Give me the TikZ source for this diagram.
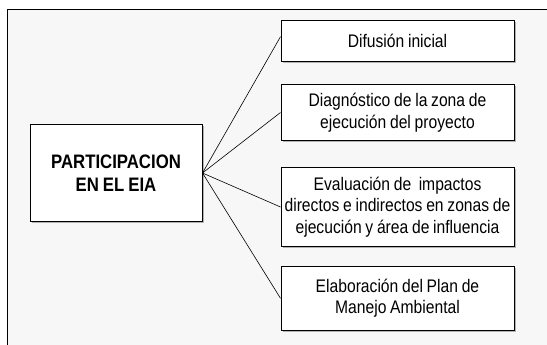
\documentclass[tikz,border=0pt]{standalone}
\usepackage{fontspec}
\setmainfont[FakeStretch=0.86,WordSpace=0.86]{Liberation Sans}
\usepackage{tikz}
\usetikzlibrary{shadows}
\definecolor{panelgray}{RGB}{247,247,247}

\tikzset{
  stepbox/.style={draw,fill=white,line width=1pt,inner sep=0pt,align=center,
    minimum width=233pt,
    font=\fontsize{18.2}{21.7}\selectfont,
    drop shadow={shadow xshift=1.5pt,shadow yshift=-1.5pt,fill=gray!60,opacity=1}},
  mainbox/.style={stepbox,minimum width=172pt,minimum height=96pt,
    font=\fontsize{19.5}{22.7}\selectfont\bfseries},
  link/.style={line width=0.6pt}
}

\begin{document}
\begin{tikzpicture}[x=1pt,y=-1pt]
\useasboundingbox (0,0) rectangle (547,345);
\fill[white] (0,0) rectangle (547,345);
\draw[fill=panelgray,line width=1pt] (7,10) rectangle (549,348);
\node[mainbox] (eia) at (116,173) {PARTICIPACION\\EN EL EIA};
\node[stepbox,minimum height=40.7pt] (difusion) at (397.5,40.7) {Difusión inicial};
\node[stepbox,minimum height=55.6pt] (diagnostico) at (397.5,112.5) {Diagnóstico de la zona de\\ejecución del proyecto};
\node[stepbox,minimum height=79pt] (evaluacion) at (397.5,207) {Evaluación de\ \ impactos\\directos e indirectos en zonas de\\ejecución y área de influencia};
\node[stepbox,minimum height=64pt] (plan) at (397.5,298.3) {Elaboración del Plan de\\Manejo Ambiental};
\draw[link] (eia.east) -- ([yshift=4pt]difusion.west);
\draw[link] (eia.east) -- (diagnostico.west);
\draw[link] (eia.east) -- (evaluacion.west);
\draw[link] (eia.east) -- (plan.west);
\end{tikzpicture}
\end{document}
